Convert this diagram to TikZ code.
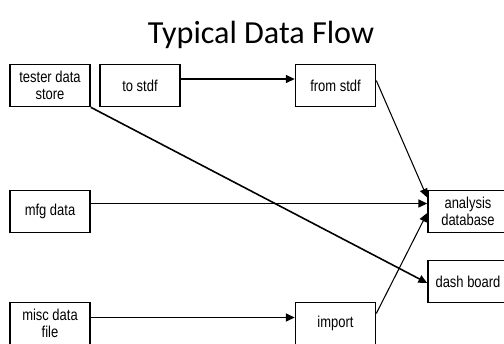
\documentclass[tikz,border=0pt]{standalone}
\usepackage{fontspec}
\setmainfont{Liberation Sans}
\newfontfamily\titlefont{Carlito}
\newfontfamily\boxfont[FakeStretch=0.82]{Liberation Sans}
\usetikzlibrary{arrows.meta}

\begin{document}
\begin{tikzpicture}[x=0.02cm,y=-0.02cm,
   box/.style={draw,line width=0.9pt,minimum width=1.6cm,minimum height=0.84cm,
      inner sep=1pt,align=center,font=\boxfont\fontsize{9}{10}\selectfont},
   flow/.style={line width=0.9pt,-{Triangle[length=5pt,width=4.5pt]}},
   thin flow/.style={line width=0.6pt,-{Triangle[length=5pt,width=4.5pt]}}]

   \clip (0,0) rectangle (504,343);
   \fill[white] (0,0) rectangle (504,343);

   \node (Title) at (261,43) [anchor=base,font=\titlefont\fontsize{18.3}{20}\selectfont] {Typical Data Flow};

   \node (Tester) at (50,85.5) [box] {tester data\\store};
   \node (ToStdf) at (140,85.5) [box] {to stdf};
   \node (FromStdf) at (335.5,85.5) [box] {from stdf};

   \node (Mfg) at (50,211.5) [box] {mfg data};

   \node (Misc) at (50,323.5) [box] {misc data\\file};
   \node (Import) at (335.5,323.5) [box] {import};

   \node (Analysis) at (468,211.5) [box] {analysis\\database};
   \node (Dash) at (468,281.5) [box] {dash board};

   \draw [flow] ([yshift=0.13cm]ToStdf.east) -- ([yshift=0.13cm]FromStdf.west);
   \draw [flow] ([yshift=0.16cm]Mfg.east) -- ([yshift=0.16cm]Analysis.west);
   \draw [flow] ([yshift=0.12cm]Misc.east) -- ([yshift=0.12cm]Import.west);

   \draw [thin flow] ([yshift=0.1cm]FromStdf.east) -- ([yshift=0.28cm]Analysis.west);
   \draw [thin flow] ([yshift=0.2cm]Import.east) -- ([yshift=-0.03cm]Analysis.west);
   \draw [flow] (Tester.south east) -- ([yshift=-0.03cm]Dash.west);

\end{tikzpicture}
\end{document}
